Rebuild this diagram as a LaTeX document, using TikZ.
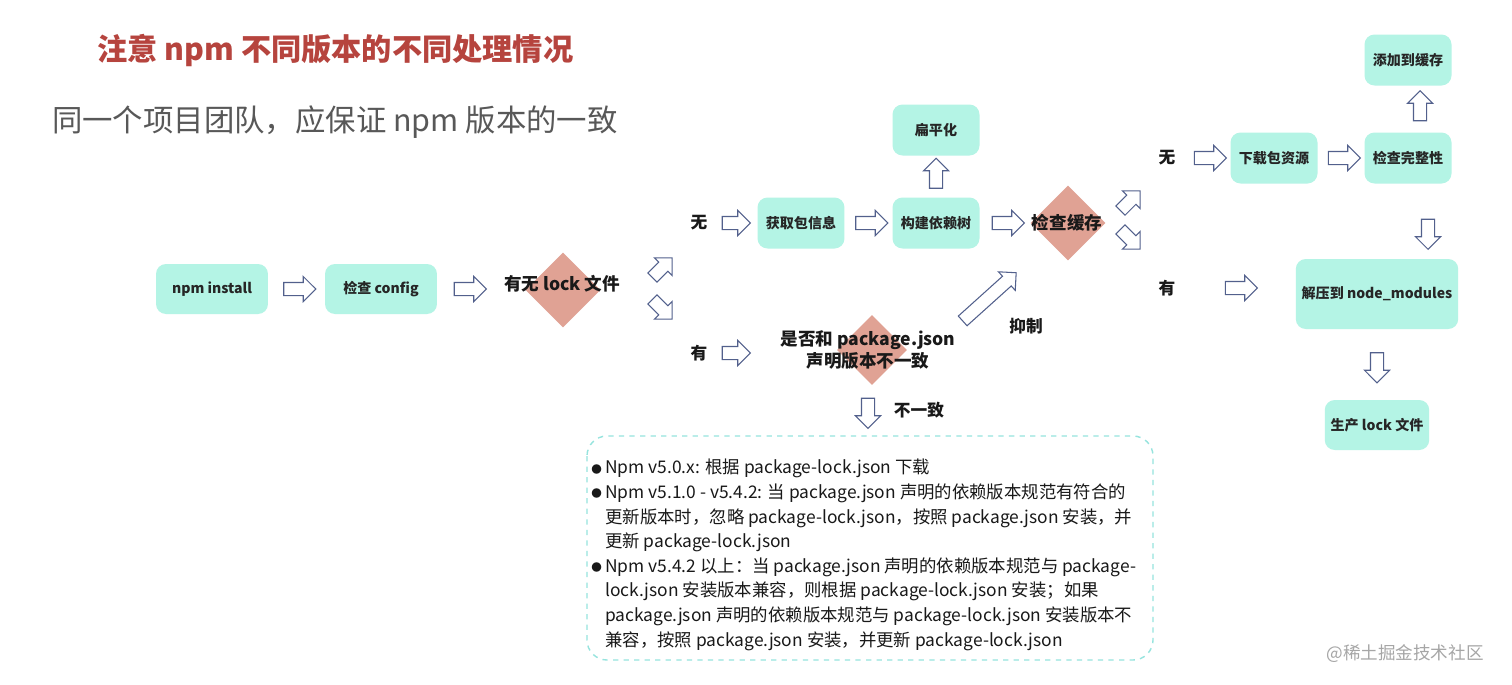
\documentclass[tikz,border=0pt]{standalone}
\usepackage{fontspec}
\setmainfont{Noto Sans CJK SC}
\usetikzlibrary{shapes.geometric,shapes.arrows,calc,positioning}

\definecolor{mint}{RGB}{180,244,229}
\definecolor{salmon}{RGB}{224,162,148}
\definecolor{arrowline}{RGB}{82,96,140}
\definecolor{titlered}{RGB}{182,68,62}
\definecolor{subgray}{RGB}{88,88,88}
\definecolor{dashcyan}{RGB}{150,228,222}

\newcommand{\notedot}{\makebox[0.8em][l]{\raisebox{0.1ex}{\fontsize{6}{6}\selectfont ●}}}

\tikzset{
  procbox/.style={rounded corners=0.2cm,fill=mint,minimum width=1.74cm,minimum height=1.02cm,
    font=\fontsize{8}{10}\selectfont\bfseries,text=black!85},
  decision/.style={diamond,fill=salmon,minimum size=1.5cm,inner sep=0},
  dtext/.style={font=\fontsize{10}{13}\selectfont\bfseries,align=center,text=black!90},
  lbl/.style={font=\fontsize{9.5}{11}\selectfont\bfseries,text=black!90},
  hollow/.style={single arrow,draw=arrowline,fill=white,line width=0.6pt,inner sep=0.12cm,
    single arrow head extend=0.12cm,single arrow head indent=0,minimum height=0.64cm,minimum width=0.48cm}
}

\begin{document}
\begin{tikzpicture}[x=0.02cm,y=-0.02cm]
\fill[white] (0,0) rectangle (1512,684);
\useasboundingbox (0,0) rectangle (1512,684);

% headings
\node[anchor=west,text=titlered,font=\fontsize{17.2}{19}\selectfont\bfseries] (title) at (91,50) {注意 npm 不同版本的不同处理情况};
\node[anchor=west,text=subgray,font=\fontsize{17.3}{19}\selectfont] (subtitle) at (46,122) {同一个项目团队，应保证 npm 版本的一致};

% main line
\node[procbox,minimum width=2.24cm,minimum height=1cm] (install) at (212,289) {npm install};
\node[procbox,minimum width=2.24cm,minimum height=1cm] (config) at (381,289) {检查 config};
\node[decision] (lockq) at (563,290) {};
\node[dtext] (locktxt) at (562,284) {有无 lock 文件};
\node[hollow] at ($(install.east)!0.5!(config.west)$) {};
\node[hollow] at (467,289) {};
\node[hollow,minimum height=0.56cm,rotate=45] at (660,270) {};
\node[hollow,minimum height=0.56cm,rotate=-45] at (660,307) {};

% no lock file
\node[lbl] (nolock) at (699,223) {无};
\node[hollow,minimum height=0.56cm] at (733,223) {};
\node[procbox] (fetch) at (801,223) {获取包信息};
\node[procbox] (tree) at (936,223) {构建依赖树};
\node[procbox] (flat) at (936,130) {扁平化};
\node[hollow] at ($(fetch.east)!0.5!(tree.west)$) {};
\node[hollow,minimum height=0.6cm,rotate=90] at ($(tree.north)!0.5!(flat.south)$) {};
\node[decision] (cacheq) at (1068,223) {};
\node[dtext] (cachetxt) at (1067,223) {检查缓存};
\node[hollow] at (1005,223) {};
\node[hollow,minimum height=0.56cm,rotate=45] at (1128,203) {};
\node[hollow,minimum height=0.56cm,rotate=-45] at (1128,237) {};

% lock file present
\node[lbl] (haslock) at (699,353) {有};
\node[hollow,minimum height=0.56cm] at (733,353) {};
\node[decision,minimum size=1.4cm] (versionq) at (872,350) {};
\node[dtext] (versiontxt) at (868,350) {是否和 package.json\\声明版本不一致};
\node[hollow,minimum height=1.44cm,rotate=42] at (987,299) {};
\node[lbl] (suppress) at (1026,326) {抑制};
\node[hollow,minimum height=0.6cm,rotate=-90] at (868,410) {};
\node[lbl] (differ) at (919,410) {不一致};

% cache
\node[lbl] (nocache) at (1167,158) {无};
\node[hollow] at (1207,158) {};
\node[procbox] (download) at (1274,158) {下载包资源};
\node[procbox] (verify) at (1408,158) {检查完整性};
\node[procbox] (addcache) at (1408,60) {添加到缓存};
\node[hollow] at ($(download.east)!0.5!(verify.west)$) {};
\node[hollow,minimum height=0.6cm,rotate=90] at (1420,109) {};
\node[lbl] (hascache) at (1167,288) {有};
\node[hollow] at (1238,288) {};
\node[procbox,minimum width=3.18cm,minimum height=1.4cm] (extract) at (1377,294) {解压到 node\_modules};
\node[hollow,minimum height=0.6cm,rotate=-90] at (1428,231) {};
\node[procbox,minimum width=2.08cm,minimum height=1cm] (genlock) at (1377,425) {生产 lock 文件};
\node[hollow,minimum height=0.6cm,rotate=-90] at ($(extract.south)!0.5!(genlock.north)$) {};

% notes
\draw[dashcyan,dashed,line width=0.8pt,rounded corners=0.4cm] (587,436) rectangle (1153,660);
\node[anchor=north west,align=left,inner sep=0,font=\fontsize{9.9}{14}\selectfont,text=black!90] (notes) at (591,459) {%
\notedot Npm v5.0.x: 根据 package-lock.json 下载\\
\notedot Npm v5.1.0 - v5.4.2: 当 package.json 声明的依赖版本规范有符合的\\
\hspace*{0.8em}更新版本时，忽略 package-lock.json，按照 package.json 安装，并\\
\hspace*{0.8em}更新 package-lock.json\\
\notedot Npm v5.4.2 以上：当 package.json 声明的依赖版本规范与 package-\\
\hspace*{0.8em}lock.json 安装版本兼容，则根据 package-lock.json 安装；如果\\
\hspace*{0.8em}package.json 声明的依赖版本规范与 package-lock.json 安装版本不\\
\hspace*{0.8em}兼容，按照 package.json 安装，并更新 package-lock.json};

\node[text=black!35,font=\fontsize{10}{12}\selectfont] (mark) at (1405,654) {@稀土掘金技术社区};
\end{tikzpicture}
\end{document}
